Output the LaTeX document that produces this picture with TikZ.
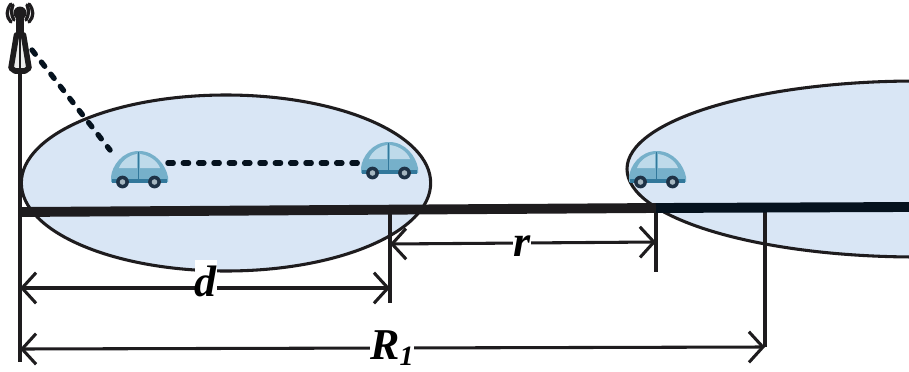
\documentclass[tikz,border=0pt]{standalone}
\usepackage{fontspec}
\setmainfont{Liberation Serif}
\usepackage{tikz}
\usetikzlibrary{shapes.geometric, arrows.meta, positioning}
\definecolor{cellblue}{RGB}{217, 230, 245}
\definecolor{linedark}{RGB}{30, 28, 30}
\definecolor{roadnavy}{RGB}{5, 18, 30}
\definecolor{carblue}{RGB}{118, 176, 202}
\definecolor{carglass}{RGB}{190, 218, 234}
\definecolor{carband}{RGB}{50, 120, 155}
\definecolor{carwheel}{RGB}{30, 50, 70}

\begin{document}
\begin{tikzpicture}[
  x=0.75pt, y=-0.75pt,
  cell/.style={ellipse, draw=linedark, fill=cellblue, line width=2.3pt, inner sep=0pt},
  road/.style={line width=7.4pt},
  tick/.style={draw=linedark, line width=2.3pt},
  dim/.style={{Straight Barb[length=10.5pt,width=23pt]}-{Straight Barb[length=10.5pt,width=23pt]}, draw=linedark, line width=2.3pt},
  linkline/.style={draw=roadnavy, line width=4pt, line cap=round, dash pattern=on 4pt off 7.5pt},
  dimlabel/.style={fill=white, inner sep=0pt, font=\fontsize{33}{33}\selectfont\bfseries\itshape},
  carspot/.style={inner sep=0pt, minimum width=43pt, minimum height=28pt},
  car/.pic={
    \fill[carblue] (-28,8) .. controls (-27,-3) and (-17,-18) .. (0,-18) .. controls (17,-18) and (27,-3) .. (29,8) -- (29,13) -- (-28,13) -- cycle;
    \fill[carglass] (-20,-1) .. controls (-17,-9) and (-9,-14) .. (-2,-15) -- (-2,-1) -- cycle;
    \fill[carglass] (1,-15) .. controls (9,-14) and (18,-9) .. (21,-1) -- (1,-1) -- cycle;
    \draw[carband, line width=0.7pt] (-0.5,-17) -- (-0.5,10);
    \fill[carband] (-27,10) -- (28,10) -- (28,13.5) -- (-27,13.5) -- cycle;
    \fill[carwheel] (-16.5,13) circle (6.4) (15.5,13) circle (6.4);
    \fill[carglass!60!gray] (-16.5,13) circle (2.8) (15.5,13) circle (2.8);
  },
  tower/.pic={
    \draw[linedark, line width=4.2pt, line join=round, fill=white!85!gray] (-3.5,-30) -- (3.5,-30) -- (9,3) -- (5,6) -- (-5,6) -- (-9,3) -- cycle;
    \draw[linedark, line width=1.4pt] (0,-28) -- (0,5);
    \draw[linedark, line width=5.5pt] (0,-52) -- (0,-27);
    \fill[linedark] (0,-52) circle (6.5);
    \draw[linedark, line width=2.5pt, line cap=round] (-7,-60) .. controls (-9,-55) and (-9,-50) .. (-6,-45) (7,-60) .. controls (9,-55) and (9,-50) .. (6,-45);
    \draw[linedark, line width=2.5pt, line cap=round] (-9,-61) .. controls (-14,-55) and (-14,-48) .. (-9,-43) (9,-61) .. controls (14,-55) and (14,-48) .. (9,-43);
  }
]
\clip (0,0) rectangle (909,371);

% Coverage cells
\node[cell, minimum width=307pt, minimum height=132pt] (cellA) at (226,183) {};
\node[cell, minimum width=435pt, minimum height=132pt] (cellB) at (917,169) {};

% Ticks and axis
\coordinate (axisTop) at (20,60);
\coordinate (axisBot) at (20,362);
\coordinate (roadA) at (390,210);
\coordinate (roadB) at (656,208);
\coordinate (roadC) at (765,207);
\coordinate (tickA) at (390,303);
\coordinate (tickB) at (656,272);
\coordinate (tickC) at (765,347);
\draw[tick] (axisTop) -- (axisBot);
\draw[tick] (roadA) -- (tickA);
\draw[tick] (roadB) -- (tickB);
\draw[tick] (roadC) -- (tickC);

% Road
\coordinate (roadStart) at (20,212);
\coordinate (roadEnd) at (909,207);
\draw[road, draw=linedark] (roadStart) -- (roadB);
\draw[road, draw=roadnavy] (roadB) -- (roadEnd);

% Distances
\coordinate (dL) at (20,288);
\coordinate (dR) at (390,288);
\coordinate (rL) at (390,244);
\coordinate (rR) at (656,242);
\coordinate (RL) at (20,349);
\coordinate (RR) at (765,347);
\draw[dim] (dL) -- (dR);
\draw[dim] (rL) -- (rR);
\draw[dim] (RL) -- (RR);

% Vehicles and base station
\node[carspot] (carA) at (139,169) {};
\node[carspot] (carB) at (389,160) {};
\node[carspot] (carC) at (657,169) {};
\pic at (carA) {car};
\pic at (carB) {car};
\pic at (carC) {car};
\coordinate (bs) at (20,65);
\pic at (bs) {tower};
\coordinate (bsLink) at (32,50);
\draw[linkline] (bsLink) -- (carA.north west);
\draw[linkline] (carA.east |- 0,163) -- (carB.west |- 0,163);

% Labels
\node[dimlabel, minimum width=15.5pt, minimum height=31pt] (labD) at (205.5,281) {\raisebox{-10pt}{d}};
\node[dimlabel] (labr) at (522,246) {r};
\node[dimlabel] (labR) at (392,348) {R\raisebox{-5pt}{\fontsize{21}{21}\selectfont 1}};
\end{tikzpicture}
\end{document}
